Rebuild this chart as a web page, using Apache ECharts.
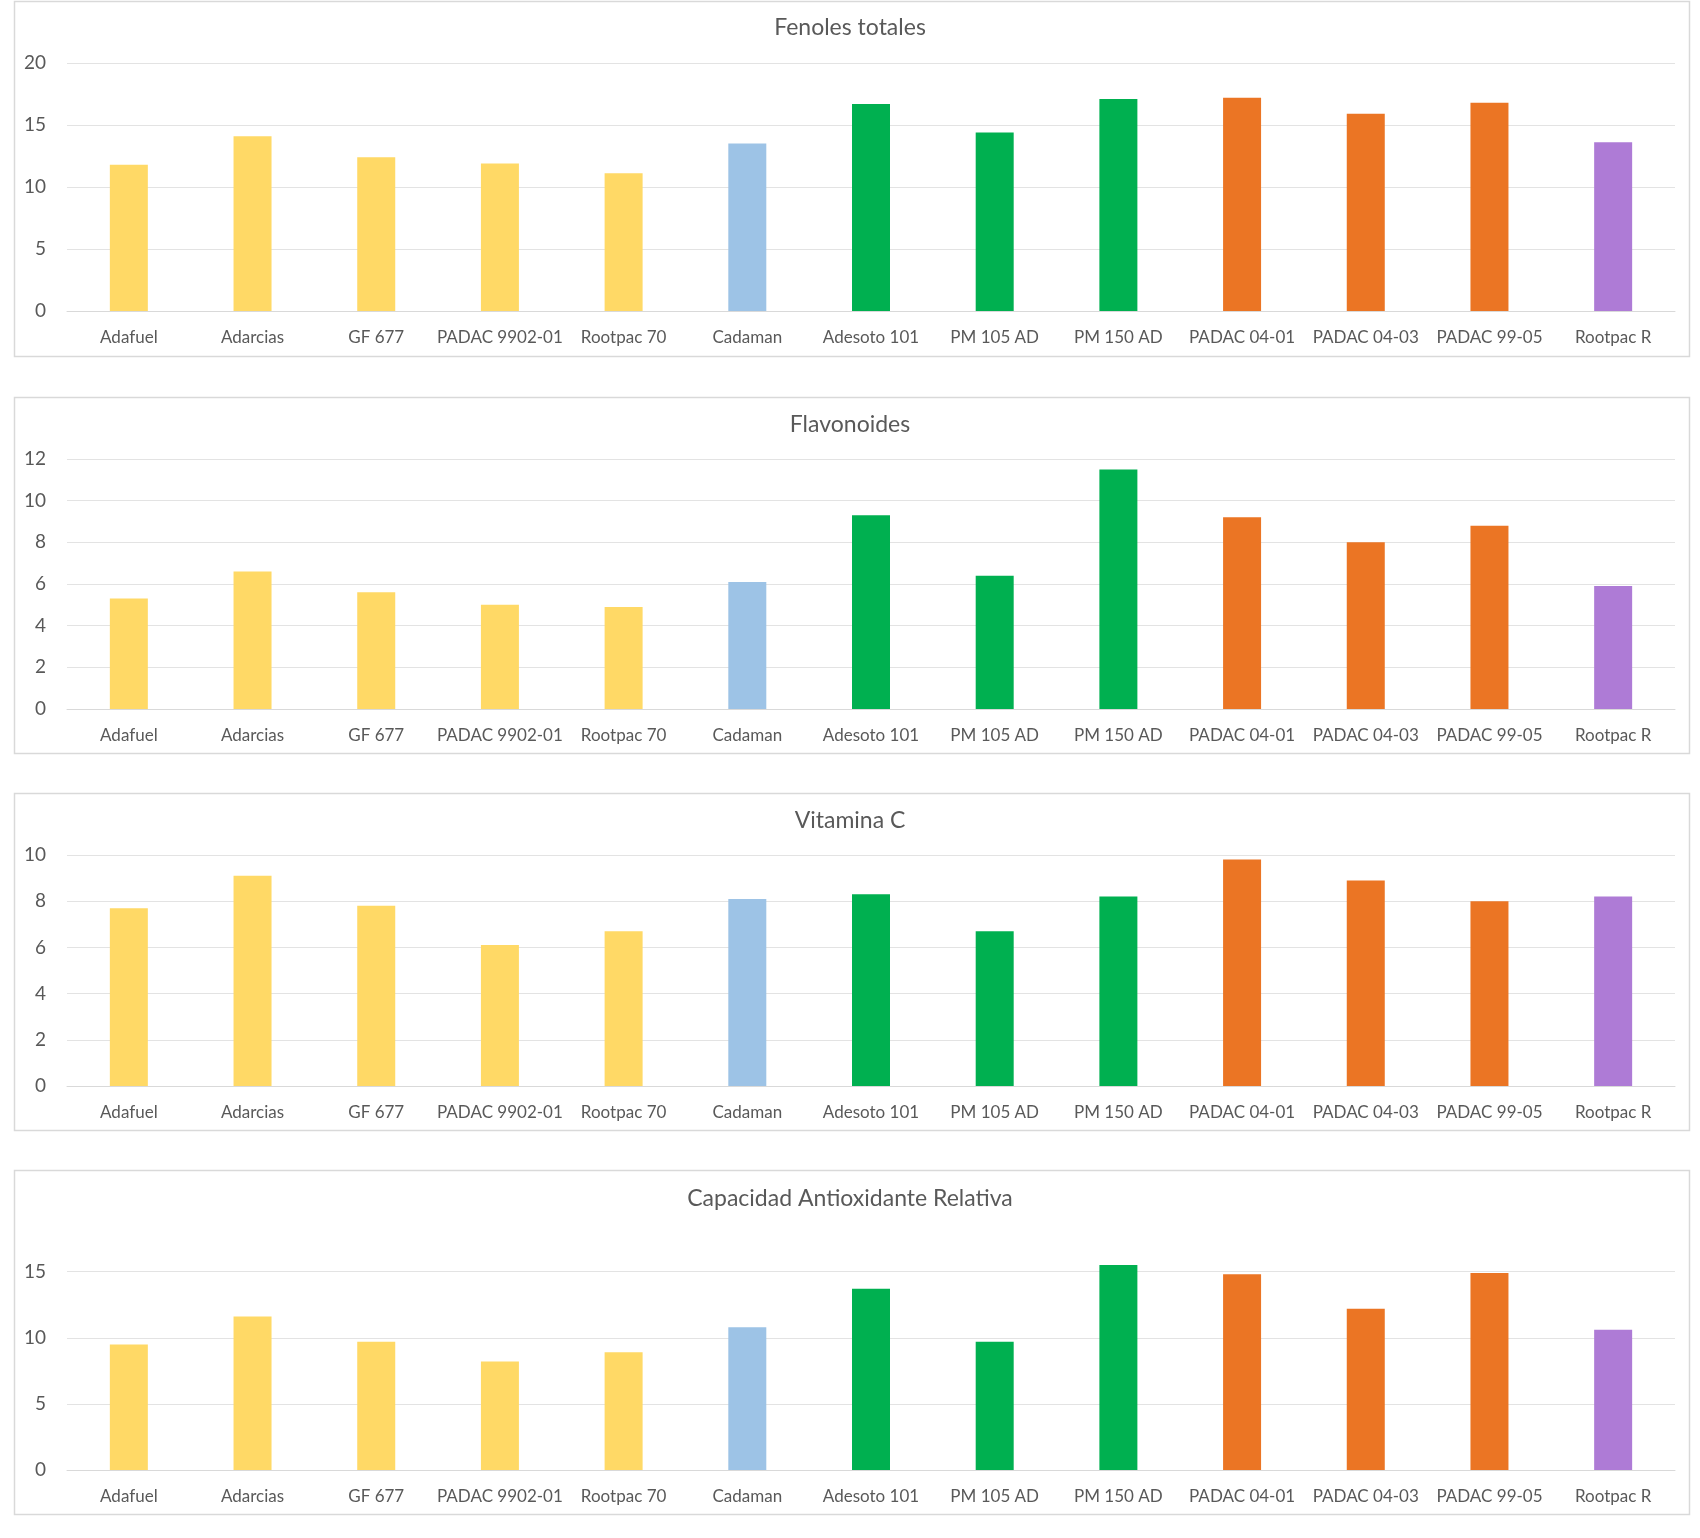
<!DOCTYPE html>
<html>
<head>
<meta charset="utf-8">
<script src="https://cdn.jsdelivr.net/npm/echarts@6/dist/echarts.min.js"></script>
<style>
  html, body { margin: 0; padding: 0; background: #fff; }
  #chart { width: 1700px; height: 1538px; }
</style>
</head>
<body>
<div id="chart"></div>
<script>
// ---- Data ----
const categories = ['Adafuel', 'Adarcias', 'GF 677', 'PADAC 9902-01', 'Rootpac 70', 'Cadaman',
  'Adesoto 101', 'PM 105 AD', 'PM 150 AD', 'PADAC 04-01', 'PADAC 04-03', 'PADAC 99-05', 'Rootpac R'];
const groups = ['g1', 'g1', 'g1', 'g1', 'g1', 'g2', 'g3', 'g3', 'g3', 'g4', 'g4', 'g4', 'g5'];

const titles = ['Fenoles totales', 'Flavonoides', 'Vitamina C', 'Capacidad Antioxidante Relativa'];

const fenoles     = [11.8, 14.1, 12.4, 11.9, 11.1, 13.5, 16.7, 14.4, 17.1, 17.2, 15.9, 16.8, 13.6];
const flavonoides = [5.3, 6.6, 5.6, 5.0, 4.9, 6.1, 9.3, 6.4, 11.5, 9.2, 8.0, 8.8, 5.9];
const vitaminaC   = [7.7, 9.1, 7.8, 6.1, 6.7, 8.1, 8.3, 6.7, 8.2, 9.8, 8.9, 8.0, 8.2];
const capacidad   = [9.5, 11.6, 9.7, 8.2, 8.9, 10.8, 13.7, 9.7, 15.5, 14.8, 12.2, 14.9, 10.6];

const yMax      = [20, 12, 10, 18];
const yInterval = [5, 2, 2, 5];

// ---- Styles / layout ----
const groupColors = { g1: '#FFD966', g2: '#9DC3E6', g3: '#00B050', g4: '#EB7524', g5: '#AE7BD6' };
const FONT = 'Lato, "Open Sans", sans-serif';
const TEXT = '#595959';
const GRIDC = '#E3E3E3';

const panels = [
  { y: 1,    h: 355, titleTop: 11,   gridTop: 63,   gridH: 248 },
  { y: 397,  h: 356, titleTop: 408,  gridTop: 459,  gridH: 250 },
  { y: 793,  h: 337, titleTop: 804,  gridTop: 855,  gridH: 231 },
  { y: 1170, h: 344, titleTop: 1182, gridTop: 1232, gridH: 238 }
];
const seriesData = [fenoles, flavonoides, vitaminaC, capacidad];

const option = {
  backgroundColor: '#fff',
  animation: false,
  graphic: panels.map(p => ({
    type: 'rect', z: -1, silent: true,
    shape: { x: 14.5, y: p.y + 0.5, width: 1675, height: p.h },
    style: { fill: '#fff', stroke: '#D9D9D9', lineWidth: 1.5 }
  })),
  title: panels.map((p, i) => ({
    text: titles[i], left: 'center', top: p.titleTop,
    textStyle: { fontFamily: FONT, fontSize: 23, fontWeight: 'normal', color: TEXT }
  })),
  grid: panels.map(p => ({ left: 67, right: 25, top: p.gridTop, height: p.gridH })),
  xAxis: panels.map((p, i) => ({
    type: 'category', gridIndex: i, data: categories,
    axisLine: { show: true, lineStyle: { color: '#D9D9D9', width: 1 } },
    axisTick: { show: false },
    axisLabel: { color: TEXT, fontFamily: FONT, fontSize: 17, margin: 18, interval: 0 }
  })),
  yAxis: panels.map((p, i) => ({
    type: 'value', gridIndex: i, min: 0, max: yMax[i], interval: yInterval[i],
    axisLine: { show: false }, axisTick: { show: false },
    splitLine: { show: true, showMaxLine: yMax[i] % yInterval[i] === 0, lineStyle: { color: GRIDC, width: 1 } },
    axisLabel: {
      color: TEXT, fontFamily: FONT, fontSize: 19, margin: 21,
      showMaxLabel: yMax[i] % yInterval[i] === 0,
      formatter: v => (v % yInterval[i] === 0 ? String(v) : '')
    }
  })),
  series: seriesData.map((d, i) => ({
    type: 'bar', xAxisIndex: i, yAxisIndex: i, barWidth: 38,
    data: d.map((v, k) => ({ value: v, itemStyle: { color: groupColors[groups[k]] } }))
  }))
};

const chart = echarts.init(document.getElementById('chart'), null, { renderer: 'canvas' });
chart.setOption(option);
</script>
</body>
</html>
